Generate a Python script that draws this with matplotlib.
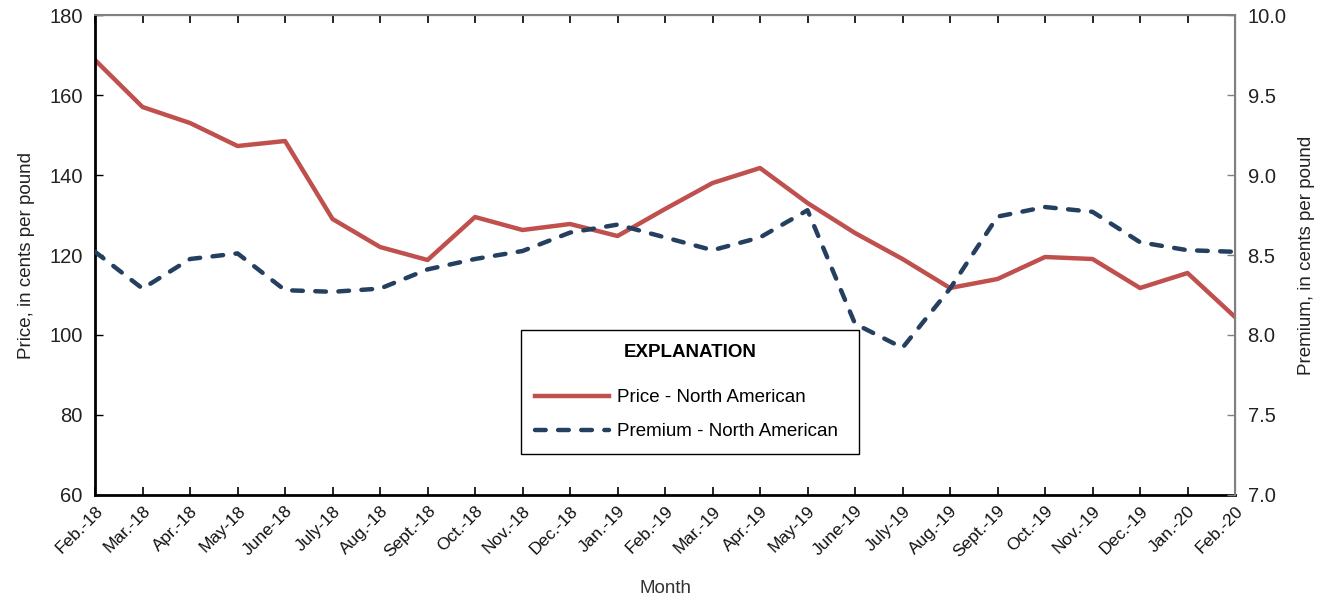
import matplotlib.pyplot as plt
from matplotlib.ticker import FormatStrFormatter

plt.rcParams['font.family'] = ['Liberation Sans', 'DejaVu Sans']

months = ['Feb.-18', 'Mar.-18', 'Apr.-18', 'May-18', 'June-18', 'July-18', 'Aug.-18',
          'Sept.-18', 'Oct.-18', 'Nov.-18', 'Dec.-18', 'Jan.-19', 'Feb.-19', 'Mar.-19',
          'Apr.-19', 'May-19', 'June-19', 'July-19', 'Aug.-19', 'Sept.-19', 'Oct.-19',
          'Nov.-19', 'Dec.-19', 'Jan.-20', 'Feb.-20']

# price, cents per pound (left axis)
price = [168.75, 157, 153, 147.25, 148.5, 129, 122, 118.75, 129.5, 126.25, 127.75,
         124.75, 131.5, 138, 141.75, 133, 125.5, 119, 111.75, 114, 119.5, 119,
         111.75, 115.5, 104.5]

# premium, cents per pound (right axis)
premium = [8.52, 8.29, 8.475, 8.51, 8.28, 8.27, 8.29, 8.41, 8.475, 8.525, 8.64,
           8.69, 8.61, 8.53, 8.61, 8.78, 8.07, 7.92, 8.29, 8.74, 8.80, 8.77,
           8.58, 8.53, 8.52]

red = '#C0504D'
navy = '#243F60'

fig = plt.figure(figsize=(13.22, 6.01), dpi=100)
ax = fig.add_axes([0.0719, 0.1764, 0.8623, 0.7986])
ax2 = ax.twinx()

x = list(range(len(months)))
l1, = ax.plot(x, price, color=red, lw=3.2, label='Price - North American')
l2, = ax2.plot(x, premium, color=navy, lw=3.2, dashes=(2.4, 2.8),
               dash_capstyle='round', label='Premium - North American')

ax.set_xlim(0, len(months) - 1)
ax.set_ylim(60, 180)
ax.set_yticks(range(60, 181, 20))
ax2.set_ylim(7.0, 10.0)
ax2.set_yticks([7.0, 7.5, 8.0, 8.5, 9.0, 9.5, 10.0])
ax2.yaxis.set_major_formatter(FormatStrFormatter('%.1f'))

ax.set_xticks(x)
ax.set_xticklabels(months, rotation=45, ha='right', rotation_mode='anchor',
                   fontsize=12.5, color='#111111')

ax.tick_params(axis='x', direction='in', length=6, width=1.2, top=True, pad=6)
ax.tick_params(axis='y', direction='in', length=6, width=1, labelsize=14.5,
               labelcolor='#222222', pad=9)
ax2.tick_params(axis='y', direction='in', length=6, width=1, colors='#808080',
                labelcolor='#222222', labelsize=14.5, pad=9)

for s in ['left', 'bottom']:
    ax.spines[s].set_linewidth(2)
    ax.spines[s].set_color('black')
for s in ['top', 'right']:
    ax2.spines[s].set_linewidth(1.5)
    ax2.spines[s].set_color('#808080')
ax2.spines['left'].set_visible(False)
ax2.spines['bottom'].set_visible(False)

ax.set_xlabel('Month', fontsize=13.5, color='#333333', labelpad=14)
ax.set_ylabel('Price, in cents per pound', fontsize=13.5, color='#222222', labelpad=10)
ax2.set_ylabel('Premium, in cents per pound', fontsize=13.5, color='#222222', labelpad=8)

leg = ax.legend(handles=[l1, l2], title='EXPLANATION', loc='lower left',
                bbox_to_anchor=(0.374, 0.085, 0.296, 0.259), mode='expand',
                fontsize=13.5, title_fontsize=13.5, frameon=True, fancybox=False,
                framealpha=1, edgecolor='black', handlelength=3.9,
                handletextpad=0.45, borderpad=0.75, labelspacing=0.9,
                borderaxespad=0)
leg.get_title().set_fontweight('bold')
leg.get_frame().set_linewidth(1)
leg._legend_box.sep = 20

fig.savefig('out.png', dpi=100)
